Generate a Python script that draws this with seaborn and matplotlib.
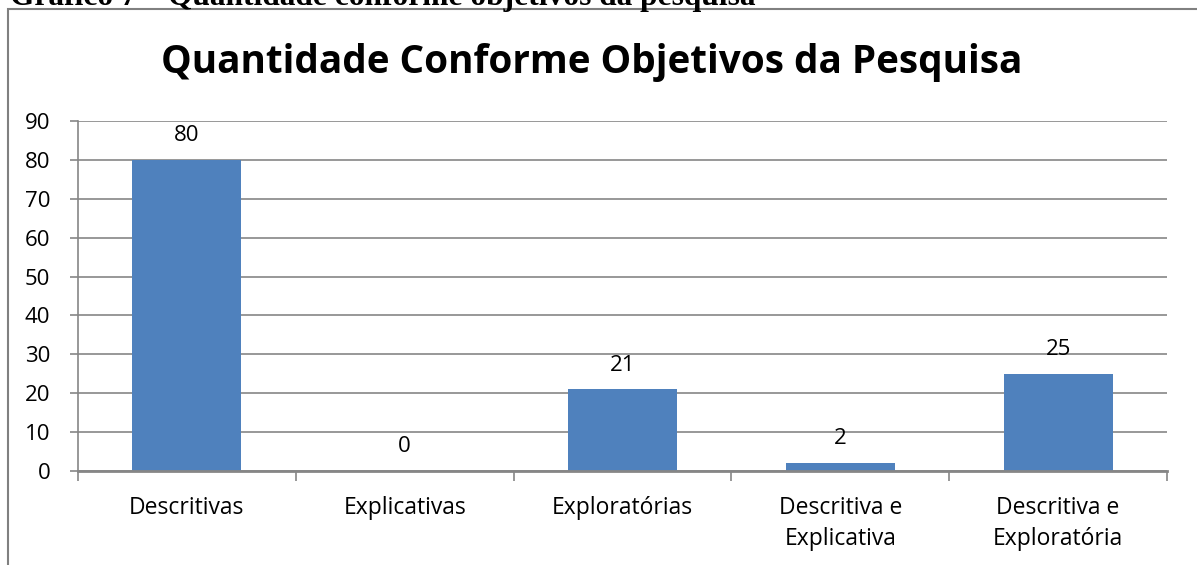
import matplotlib
matplotlib.use("Agg")
import matplotlib.pyplot as plt
import seaborn as sns
import pandas as pd
from matplotlib.patches import Rectangle

categories = ["Descritivas", "Explicativas", "Exploratórias", "Descritiva e\nExplicativa", "Descritiva e\nExploratória"]
values = [80, 0, 21, 2, 25]
yticks = [0, 10, 20, 30, 40, 50, 60, 70, 80, 90]
title = "Quantidade Conforme Objetivos da Pesquisa"
caption = "Gráfico 7 – Quantidade conforme objetivos da pesquisa"

sns.set_theme(style="white")
plt.rcParams['font.family'] = ['Open Sans', 'DejaVu Sans']
plt.rcParams['text.color'] = 'black'
plt.rcParams['xtick.color'] = 'black'
plt.rcParams['ytick.color'] = 'black'

df = pd.DataFrame({"cat": categories, "val": values})

fig = plt.figure(figsize=(11.97, 5.65), dpi=100)
ax = fig.add_axes([78/1197, 1-471/565, (1167-78)/1197, (471-121)/565])

grid_c = "#868686"
sns.barplot(data=df, x="cat", y="val", color="#4F81BD", width=0.5, ax=ax,
            saturation=1, edgecolor="none", linewidth=0)

ax.set_ylim(0, 90)
ax.set_xlim(-0.5, len(categories)-0.5)
ax.set_yticks(yticks)
ax.set_yticklabels([str(t) for t in yticks], fontsize=16)
ax.yaxis.grid(True, color=grid_c, linewidth=1.2)
ax.set_axisbelow(True)
ax.set_xlabel("")
ax.set_ylabel("")

ax.set_xticks([i - 0.5 for i in range(len(categories)+1)], minor=False)
ax.set_xticklabels([])
ax.set_xticks(range(len(categories)), minor=True)
ax.set_xticklabels(categories, minor=True, fontsize=16.5, linespacing=1.4)
ax.tick_params(axis='x', which='major', length=7, width=1.2, color=grid_c, direction='out', bottom=True)
ax.tick_params(axis='x', which='minor', length=0, pad=18, bottom=True)
ax.tick_params(axis='y', length=6, width=1.2, color=grid_c, direction='out', left=True, pad=14)
for lab in ax.get_xticklabels(minor=True):
    lab.set_verticalalignment('top')

for s in ["top", "right"]:
    ax.spines[s].set_visible(False)
ax.spines["left"].set_color(grid_c)
ax.spines["left"].set_linewidth(1.2)
ax.spines["bottom"].set_color(grid_c)
ax.spines["bottom"].set_linewidth(2)

for i, v in enumerate(values):
    ax.annotate(str(v), (i, v), xytext=(0, 17.5), textcoords="offset points",
                ha="center", va="center", fontsize=16)

fig.text(592/1197, 1-62/565, title, ha="center", va="center", fontsize=27.8, fontweight="bold")

# outer frame
fig.patches.append(Rectangle((8/1197, -0.1), 1.2, 1-9/565+0.1, transform=fig.transFigure,
                             fill=False, edgecolor="#808080", linewidth=1.5))
fig.text(10/1197, 1-5/565, caption, ha="left", va="baseline", fontsize=22.6, fontweight="bold",
         family="Liberation Serif")

fig.savefig("out.png", dpi=100)
